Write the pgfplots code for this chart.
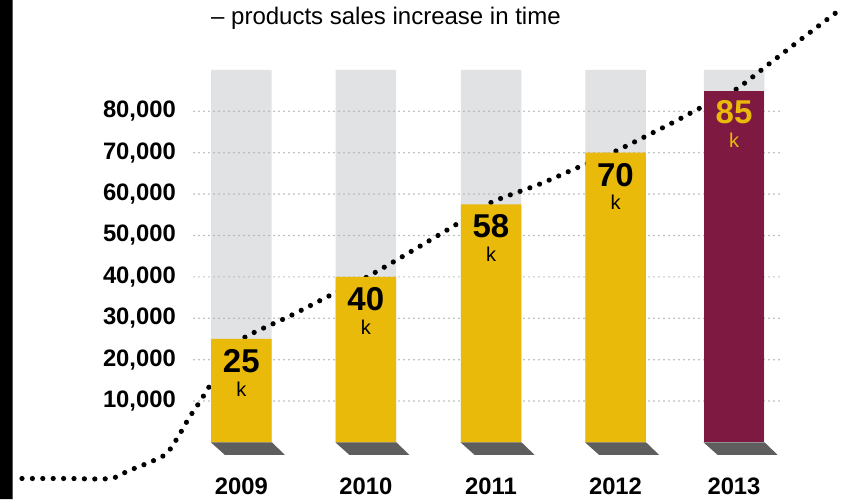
\documentclass[border=0pt]{standalone}
\usepackage{pgfplots}
\pgfplotsset{compat=1.18}
\usepackage{fontspec}
\setmainfont{Liberation Sans}
\definecolor{bargold}{RGB}{233,186,10}
\definecolor{barmaroon}{RGB}{126,26,65}
\definecolor{bggray}{RGB}{225,226,228}
\definecolor{shadowgray}{RGB}{94,94,94}
\definecolor{gridgray}{RGB}{175,175,175}
\newcommand{\tickfont}{\fontsize{23.8}{24}\selectfont\bfseries}
\newcommand{\numfont}{\fontsize{33}{33}\selectfont\bfseries}
\newcommand{\kfont}{\fontsize{20}{20}\selectfont}
\begin{document}
\begin{tikzpicture}
\begin{axis}[
  scale only axis, width=847pt, height=499pt,
  xmin=0, xmax=847, ymin=-13.65, ymax=106.88,
  axis line style={draw=none}, tick style={draw=none},
  axis background/.style={fill=white},
  clip=false,
  /pgf/number format/assume math mode=true,
  xtick={241.3,365.8,491,615.5,734},
  xticklabels={2009,2010,2011,2012,2013},
  ytick={10,20,30,40,50,60,70,80},
  yticklabels={{10,000},{20,000},{30,000},{40,000},{50,000},{60,000},{70,000},{80,000}},
  xticklabel style={anchor=center, yshift=12.5pt, inner sep=0pt, font=\tickfont},
  yticklabel style={anchor=east, xshift=176pt, inner sep=0pt, font=\tickfont},
]
% left black strip
\addplot[fill=black, draw=none] coordinates {(0,-13.65) (12.5,-13.65) (12.5,106.88) (0,106.88) (0,-13.65)};
% background bars
\addplot[ybar, bar width=60.5, bar shift=0pt, fill=bggray, draw=none]
  coordinates {(241.3,90) (365.8,90) (491,90) (615.5,90) (734,90)};
% grid lines
\pgfplotsinvokeforeach{10,20,30,40,50,60,70,80}{
  \addplot[gridgray, line width=1.7pt, line cap=round, dash pattern=on 0pt off 5pt]
    coordinates {(194,#1) (783,#1)};
}
% trend curve
\addplot[black, line width=5.2pt, line cap=round, dash pattern=on 0pt off 10.4pt, smooth]
  coordinates {(22,-8.7) (66,-8.7) (110,-8.7) (128,-6.88) (148,-4.95) (166,-2.78) (178,1.33)
  (189,5.92) (201,10.27) (212,14.61) (226,20.3) (242,25) (290,30.56) (329,35.39) (367,39.98)
  (412,46.26) (457,52.78) (490,57.85) (540,62.44) (579,66.55) (616,70.41) (672,77.17)
  (700,80.8) (735,85.14) (769,91.43) (804,97.95) (837,103.99)};
% value bars
\addplot[ybar, bar width=60.5, bar shift=0pt, fill=bargold, draw=none]
  coordinates {(241.3,25) (365.8,40) (491,57.5) (615.5,70)};
\addplot[ybar, bar width=60.5, bar shift=0pt, fill=barmaroon, draw=none]
  coordinates {(734,85)};
% shadows
\addplot[fill=shadowgray, draw=none] coordinates {(211,0) (272,0) (285,-3.02) (225,-3.02) (211,0)};
\addplot[fill=shadowgray, draw=none] coordinates {(335.5,0) (396.5,0) (409.5,-3.02) (349.5,-3.02) (335.5,0)};
\addplot[fill=shadowgray, draw=none] coordinates {(460.7,0) (521.7,0) (534.7,-3.02) (474.7,-3.02) (460.7,0)};
\addplot[fill=shadowgray, draw=none] coordinates {(585.2,0) (646.2,0) (659.2,-3.02) (599.2,-3.02) (585.2,0)};
\addplot[fill=shadowgray, draw=none] coordinates {(703.7,0) (764.7,0) (777.7,-3.02) (717.7,-3.02) (703.7,0)};
% value labels
\node[inner sep=0pt, yshift=-22pt, font=\numfont] at (axis cs:241.3,25) {25};
\node[inner sep=0pt, yshift=-50pt, font=\kfont] at (axis cs:241.3,25) {k};
\node[inner sep=0pt, yshift=-22pt, font=\numfont] at (axis cs:365.8,40) {40};
\node[inner sep=0pt, yshift=-50pt, font=\kfont] at (axis cs:365.8,40) {k};
\node[inner sep=0pt, yshift=-22pt, font=\numfont] at (axis cs:491,57.5) {58};
\node[inner sep=0pt, yshift=-50pt, font=\kfont] at (axis cs:491,57.5) {k};
\node[inner sep=0pt, yshift=-22pt, font=\numfont] at (axis cs:615.5,70) {70};
\node[inner sep=0pt, yshift=-50pt, font=\kfont] at (axis cs:615.5,70) {k};
\node[inner sep=0pt, yshift=-22pt, font=\numfont, text=bargold] at (axis cs:734,85) {85};
\node[inner sep=0pt, yshift=-50pt, font=\kfont, text=bargold] at (axis cs:734,85) {k};
% title
\node[inner sep=0pt, anchor=base west, font=\fontsize{24}{24}\selectfont] at (axis cs:211,100.85) {– products sales increase in time};
\end{axis}
\end{tikzpicture}
\end{document}
